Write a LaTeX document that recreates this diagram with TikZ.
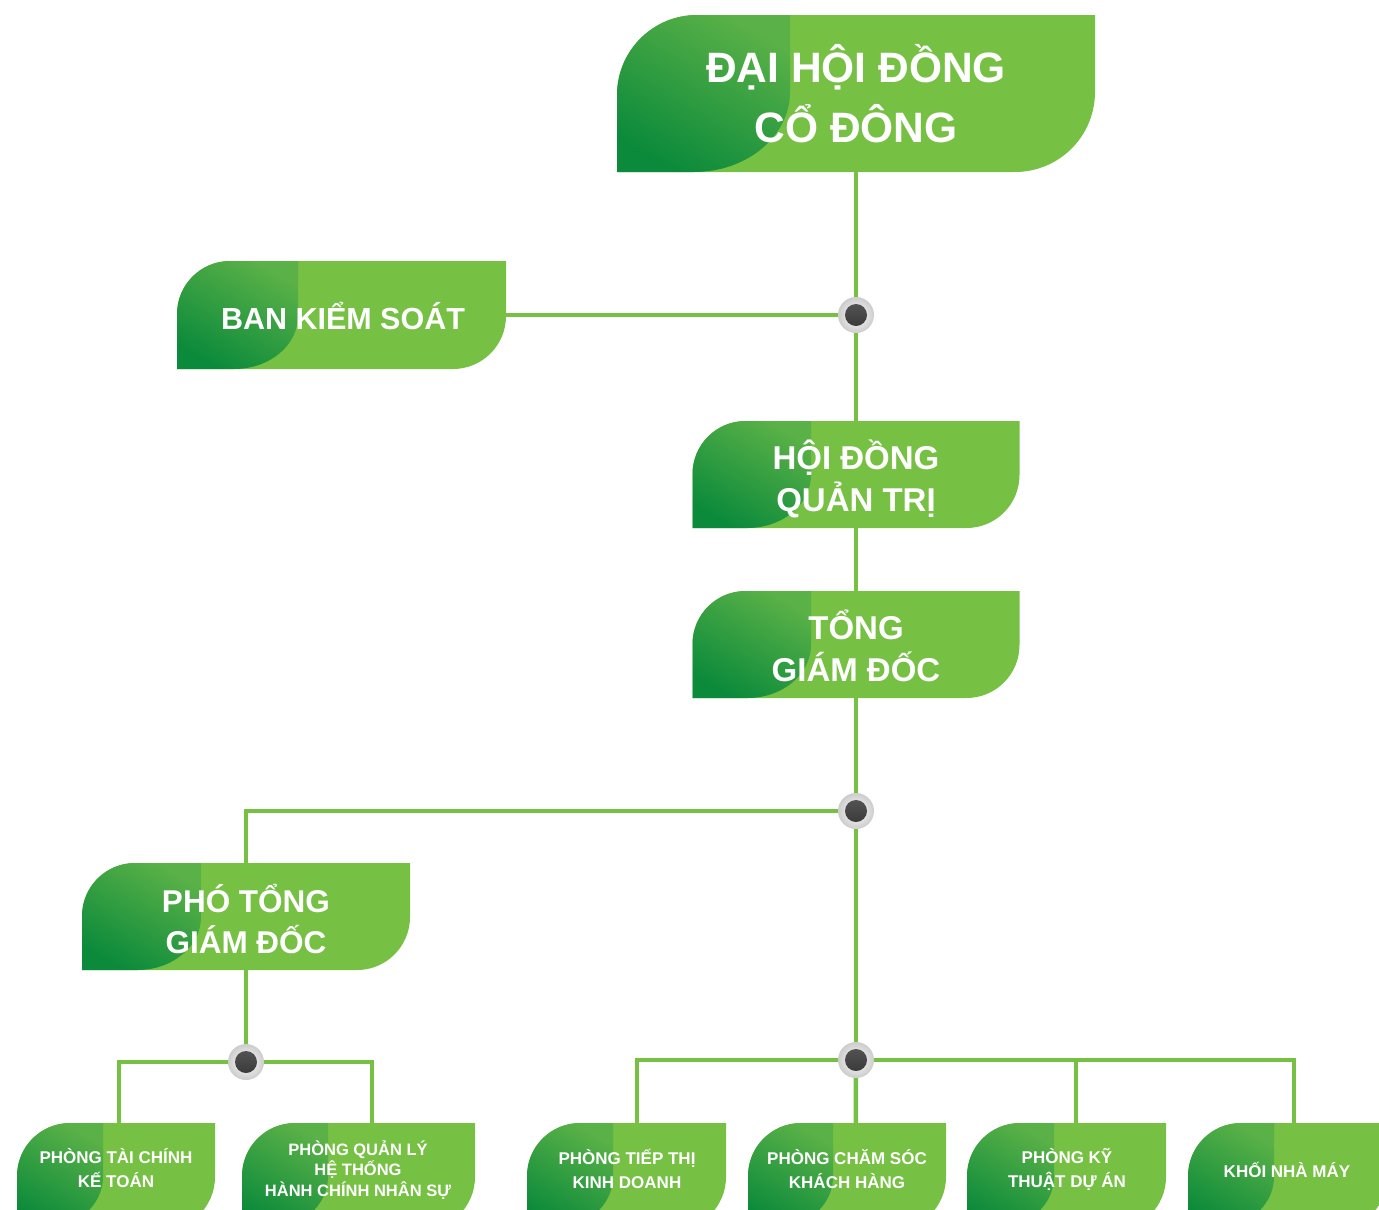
\documentclass[tikz,border=0pt]{standalone}
\usepackage{fontspec}
\setmainfont{Liberation Sans}
\usetikzlibrary{calc}
\definecolor{lg}{HTML}{76C044}
\definecolor{dgA}{HTML}{5AB147}
\definecolor{dgB}{HTML}{0B8A3B}
\definecolor{dotdkA}{HTML}{5A5A5A}
\definecolor{dotdkB}{HTML}{333333}
\pgfdeclarelayer{bg}
\pgfsetlayers{bg,main}
\newcommand\orgbox[7]{%
  \pgfmathsetmacro\orgR{#6}%
  \pgfmathsetmacro\orgK{0.5523*#6}%
  \pgfmathsetmacro\orgRX{1.2*#6}%
  \pgfmathsetmacro\orgKX{0.5523*1.2*#6}%
  \node[boxarea, minimum width={(#4-#2)*1pt}, minimum height={(#5-#3)*1pt}] (#1) at ({(#2+#4)/2},{(#3+#5)/2}) {};
  \fill[lg] (#2,#5) -- (#2,#3+\orgR) .. controls (#2,#3+\orgR-\orgK) and (#2+\orgR-\orgK,#3) .. (#2+\orgR,#3) -- (#4,#3) -- (#4,#5-\orgR) .. controls (#4,#5-\orgR+\orgK) and (#4-\orgR+\orgK,#5) .. (#4-\orgR,#5) -- cycle;
  \shade[darkshade] (#2,#5) -- (#2,#3+\orgR) .. controls (#2,#3+\orgR-\orgK) and (#2+\orgR-\orgK,#3) .. (#2+\orgR,#3) -- (#7,#3) -- (#7,#5-\orgR) .. controls (#7,#5-\orgR+\orgK) and (#7-\orgRX+\orgKX,#5) .. (#7-\orgRX,#5) -- cycle;
}
\tikzset{
  boxarea/.style={rectangle, inner sep=0pt, draw=none},
  darkshade/.style={top color=dgA, bottom color=dgB, shading angle=-30},
  conn/.style={draw=lg, line width=4.5pt},
  dot/.style={circle, minimum size=36pt, inner sep=0pt, inner color=white, outer color=black!20,
    path picture={\shade[top color=dotdkA, bottom color=dotdkB] (path picture bounding box.center) circle (11pt);}},
  btext/.style={text=white, align=center, inner sep=0pt},
  tA/.style={btext, font=\fontsize{42.5}{60}\selectfont\bfseries},
  tB/.style={btext, font=\fontsize{33}{42}\selectfont\bfseries},
  tC/.style={btext, font=\fontsize{31.5}{41}\selectfont\bfseries},
  tK/.style={btext, font=\fontsize{30.5}{41}\selectfont\bfseries},
  tD/.style={btext, font=\fontsize{17}{24}\selectfont\bfseries},
  tE/.style={btext, font=\fontsize{16.5}{20.5}\selectfont\bfseries},
}
\begin{document}
\begin{tikzpicture}[x=1pt, y=-1pt]
\useasboundingbox (0,0) rectangle (1379,1210);
\clip (0,0) rectangle (1379,1210);
% boxes
\orgbox{dhcd}{617}{15}{1095}{172}{80}{790}
\orgbox{bks}{177}{261}{506}{369}{53}{298}
\orgbox{hdqt}{692.5}{421}{1019.5}{528}{53}{811}
\orgbox{tgd}{692.5}{591}{1019.5}{698}{53}{811}
\orgbox{ptgd}{82}{863}{410}{970}{53}{201}
\orgbox{b1}{17}{1123}{215}{1230}{53}{103}
\orgbox{b2}{242}{1123}{475}{1230}{53}{328}
\orgbox{b3}{527}{1123}{726}{1230}{53}{613}
\orgbox{b4}{748}{1123}{946}{1230}{53}{833}
\orgbox{b5}{967}{1123}{1166}{1230}{53}{1054}
\orgbox{b6}{1188}{1123}{1387}{1230}{53}{1274}
% texts
\node[tA] (x0) at (856,94) {ĐẠI HỘI ĐỒNG\\CỔ ĐÔNG};
\node[tK] (x1) at (343,316) {BAN KIỂM SOÁT};
\node[tB] (x2) at (856,479) {HỘI ĐỒNG\\QUẢN TRỊ};
\node[tB] (x3) at (856,646) {TỔNG\\GIÁM ĐỐC};
\node[tC] (x4) at (246,919) {PHÓ TỔNG\\GIÁM ĐỐC};
\node[tD] (x5) at (116,1168) {PHÒNG TÀI CHÍNH\\KẾ TOÁN};
\node[tE] (x6) at (358,1170) {PHÒNG QUẢN LÝ\\HỆ THỐNG\\HÀNH CHÍNH NHÂN SỰ};
\node[tD] (x7) at (627,1169) {PHÒNG TIẾP THỊ\\KINH DOANH};
\node[tD] (x8) at (847,1169) {PHÒNG CHĂM SÓC\\KHÁCH HÀNG};
\node[tD] (x9) at (1067,1169) {PHÒNG KỸ\\THUẬT DỰ ÁN};
\node[tD] (x10) at (1287,1170) {KHỐI NHÀ MÁY};
% junction dots
\node[dot] (d1) at (856,315) {};
\node[dot] (d2) at (856,811) {};
\node[dot] (d3) at (246,1062) {};
\node[dot] (d4) at (856,1060) {};
% connectors
\begin{pgfonlayer}{bg}
\draw[conn] (dhcd.south) -- (d1);
\draw[conn] (bks.east) -- (d1);
\draw[conn] (d1) -- (hdqt.north);
\draw[conn] (hdqt.south) -- (tgd.north);
\draw[conn] (tgd.south) -- (d2);
\draw[conn] (d2) -- (d4);
\draw[conn] (d2) -| (ptgd.north);
\draw[conn] (ptgd.south) -- (d3);
\draw[conn] (d3) -| ([xshift=102pt]b1.north west);
\draw[conn] (d3) -| ([xshift=130pt]b2.north west);
\draw[conn] (d4) -| ([xshift=110pt]b3.north west);
\draw[conn] (d4) -- ([xshift=108pt]b4.north west);
\draw[conn] (d4) -| ([xshift=109pt]b5.north west);
\draw[conn] (d4) -| ([xshift=106pt]b6.north west);
\end{pgfonlayer}
\end{tikzpicture}
\end{document}
